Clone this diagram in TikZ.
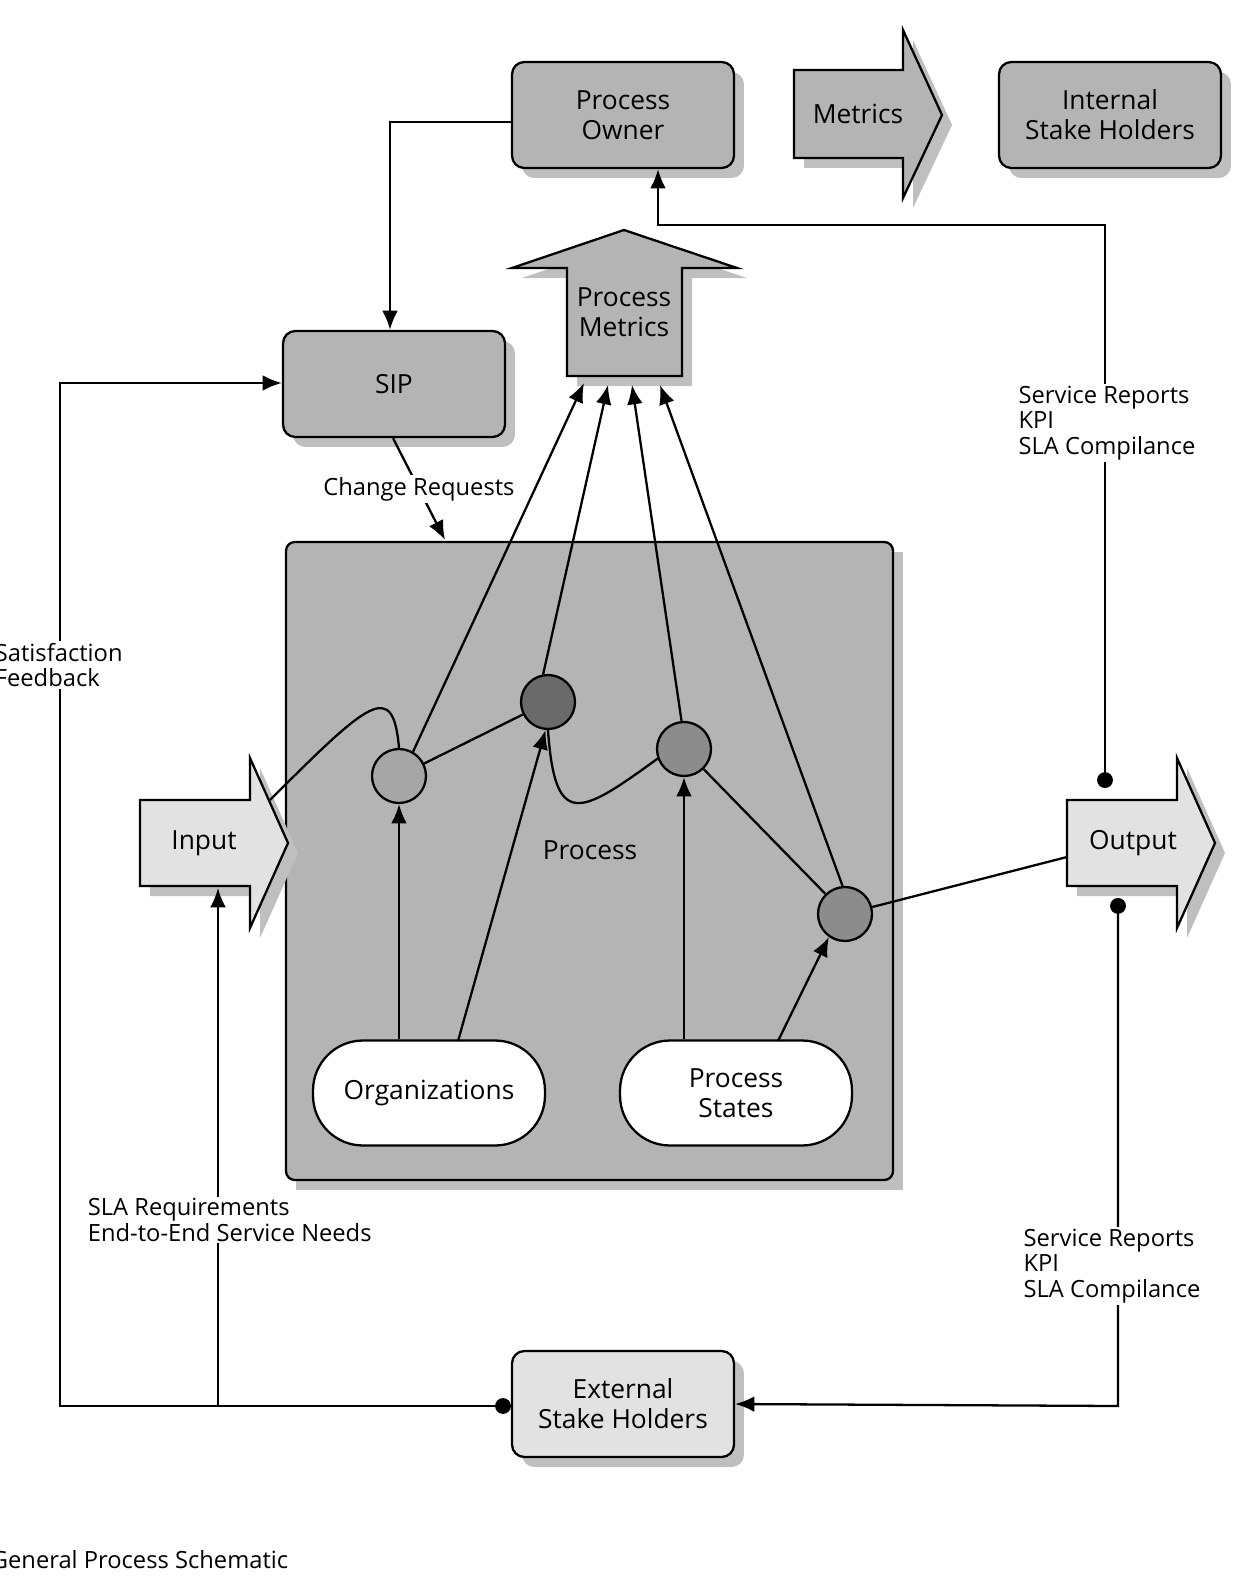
\documentclass[tikz,border=0pt]{standalone}
\usepackage{fontspec}
\setmainfont{Open Sans}
\usetikzlibrary{arrows.meta,shadows,calc}
\definecolor{boxgray}{HTML}{B4B4B5}
\definecolor{lightgray}{HTML}{E2E2E3}
\definecolor{litedot}{HTML}{A6A6A7}
\definecolor{darkdot}{HTML}{6A6A6B}
\definecolor{middot}{HTML}{8C8C8D}
\begin{document}
\begin{tikzpicture}[x=0.02cm,y=-0.02cm,line width=1.3pt,
  box/.style={draw, rounded corners=7pt, fill=boxgray, minimum width=4.44cm, minimum height=2.12cm,
    align=center, font=\fontsize{15}{17}\selectfont,
    drop shadow={shadow xshift=0.2cm, shadow yshift=-0.2cm, fill=black!25, opacity=1}},
  pill/.style={draw, rounded corners=1cm, fill=white, minimum width=4.64cm, minimum height=2.1cm,
    align=center, font=\fontsize{15}{17}\selectfont},
  dot/.style={circle, draw, minimum size=1.08cm, inner sep=0pt},
  lbl/.style={align=left, font=\fontsize{13.5}{14.5}\selectfont, inner sep=1pt},
  big/.style={font=\fontsize{15}{17}\selectfont, align=center},
  arr/.style={-{Latex[length=11pt,width=9pt]}},
  darr/.style={{Circle[length=9pt]}-{Latex[length=11pt,width=9pt]}}]
\useasboundingbox (0,0) rectangle (1251,1578);
% boxes
\node[box] (owner) at (623,115) {Process\\Owner};
\node[box] (internal) at (1110,115) {Internal\\Stake Holders};
\node[box] (sip) at (394,384) {SIP};
\node[box, fill=lightgray] (external) at (623,1404) {External\\Stake Holders};
\fill[black!25] (296,552) rectangle (903,1190);
\draw[fill=boxgray, rounded corners=5pt] (286,542) rectangle (893,1180);
\node[big] at (590,850) {Process};
% block arrows
\fill[black!25] (804,80) -- (913,80) -- (913,40) -- (952,125) -- (913,208) -- (913,168) -- (804,168) -- cycle;
\draw[fill=boxgray, line join=miter] (794,70) -- (903,70) -- (903,30) -- (942,115) -- (903,198) -- (903,158) -- (794,158) -- cycle;
\node[big] at (858,114) {Metrics};
\fill[black!25] (577,386) -- (577,278) -- (522,278) -- (634,240) -- (747,278) -- (692,278) -- (692,386) -- cycle;
\draw[fill=boxgray, line join=miter] (567,376) -- (567,268) -- (512,268) -- (624,230) -- (737,268) -- (682,268) -- (682,376) -- cycle;
\node[big] at (624,312) {Process\\Metrics};
\fill[black!25] (150,810) -- (260,810) -- (260,768) -- (298,853) -- (260,938) -- (260,896) -- (150,896) -- cycle;
\draw[fill=lightgray, line join=miter] (140,800) -- (250,800) -- (250,758) -- (288,843) -- (250,928) -- (250,886) -- (140,886) -- cycle;
\node[big] at (204,843) {Input};
\fill[black!25] (1077,810) -- (1187,810) -- (1187,768) -- (1225,853) -- (1187,938) -- (1187,896) -- (1077,896) -- cycle;
\draw[fill=lightgray, line join=miter] (1067,800) -- (1177,800) -- (1177,758) -- (1215,843) -- (1177,928) -- (1177,886) -- (1067,886) -- cycle;
\node[big] at (1133,843) {Output};
% anchors on block arrows
\coordinate (inTop) at (270,800);
\coordinate (inBot) at (218,888);
\coordinate (outL) at (1067,857);
\coordinate (outTop) at (1105,788);
\coordinate (outBot) at (1118,898);
\coordinate (pm1) at (584,383);
\coordinate (pm2) at (608,385);
\coordinate (pm3) at (632,385);
\coordinate (pm4) at (660,385);
% inner nodes
\node[pill] (org) at (429,1093) {Organizations};
\node[pill] (states) at (736,1093) {Process\\States};
\node[dot, fill=litedot] (c1) at (399,776) {};
\node[dot, fill=darkdot] (c2) at (548,702) {};
\node[dot, fill=middot] (c3) at (684,749) {};
\node[dot, fill=middot] (c4) at (845,914) {};
% process connectors
\draw (inTop) .. controls (370,700) and (393,680) .. (c1.north);
\draw (c1) -- (c2);
\draw (c2.south) .. controls (555,830) and (580,815) .. (c3.200);
\draw (c3) -- (c4);
\draw (c4) -- (outL);
\draw[arr] (c1.60) -- (pm1);
\draw[arr] (c2.100) -- (pm2);
\draw[arr] (c3.95) -- (pm3);
\draw[arr] (c4.95) -- (pm4);
\draw[arr] (org.north -| c1) -- (c1.south);
\draw[arr] (458,1041) -- (c2.265);
\draw[arr] (states.north -| c3) -- (c3.south);
\draw[arr] (778,1041) -- (c4.235);
% outer connectors
\draw[arr] (owner.west |- 0,122) -- (390,122) -- (sip.north -| 390,0);
\draw[arr] (sip.south -| 393,0) -- node[fill=white, lbl] {Change Requests} (445,540);
\draw[darr] (outTop) -- (1105,225) -- (658,225) -- (owner.south -| 658,0);
\node[lbl, fill=white] at (1107,423) {Service Reports\\KPI\\SLA Compilance};
\draw[darr] (outBot) -- (1118,1406) -- (external.east);
\node[lbl, fill=white] at (1112,1266) {Service Reports\\KPI\\SLA Compilance};
\draw[darr] (external.west |- 0,1406) -- (60,1406) -- (60,383) -- (sip.west |- 0,383);
\draw[arr] (218,1406) -- (inBot);
\node[lbl, fill=white, anchor=west] at (-8,665) {Satisfaction\\Feedback};
\node[lbl, fill=white, anchor=west] at (85,1220) {SLA Requirements\\End-to-End Service Needs};
\node[lbl, anchor=west] at (-12,1560) {General Process Schematic};
\end{tikzpicture}
\end{document}
